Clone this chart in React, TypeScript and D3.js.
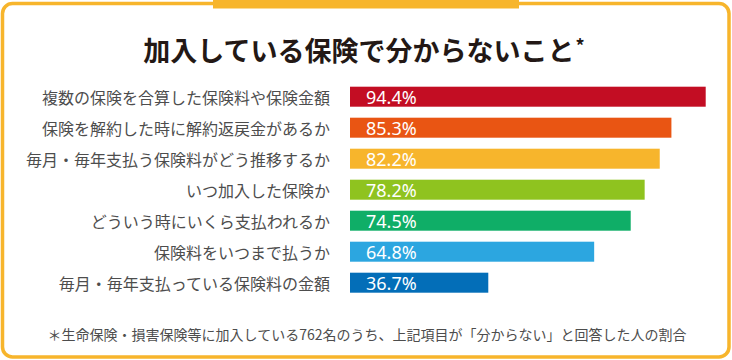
import * as d3 from 'd3'
import React from 'react'

const categories = [
  '複数の保険を合算した保険料や保険金額',
  '保険を解約した時に解約返戻金があるか',
  '毎月・毎年支払う保険料がどう推移するか',
  'いつ加入した保険か',
  'どういう時にいくら支払われるか',
  '保険料をいつまで払うか',
  '毎月・毎年支払っている保険料の金額',
]
const values = [94.4, 85.3, 82.2, 78.2, 74.5, 64.8, 36.7]
const barColors = ['#C30D23', '#E95513', '#F7B52C', '#8FC31F', '#0FAE67', '#2CA6E0', '#036EB8']
const title = '加入している保険で分からないこと'
const note = '＊生命保険・損害保険等に加入している762名のうち、上記項目が「分からない」と回答した人の割合'

const svgWidth = 732
const svgHeight = 360
const orange = '#F7B52C'
const jp = '"Noto Sans CJK JP", "Noto Sans", sans-serif'

export default function App() {
  const xScale = d3.scaleLinear().domain([0, 100]).range([350, 726.8])
  const yScale = d3.scaleBand<string>()
    .domain(categories)
    .range([86.7, 292.7])
    .paddingInner(11 / 31)
    .paddingOuter(0)

  return (
    <svg
      width={svgWidth}
      height={svgHeight}
      style={{ position: 'absolute', left: 0, top: 0, background: '#fff' }}
    >
      <rect x={2.5} y={3.5} width={726.5} height={353.5} rx={10} ry={10}
        fill="#fff" stroke={orange} strokeWidth={3.5} />
      <rect x={213} y={0} width={306} height={8.5} fill={orange} />

      <text x={364} y={49} textAnchor="middle" dominantBaseline="central"
        fontFamily={jp} fontWeight={700} fontSize={27} fill="#231815">
        {title}
        <tspan fontSize={18} dy={-4} dx={1}>*</tspan>
      </text>

      {categories.map((c, i) => {
        const y = yScale(c)!
        const h = yScale.bandwidth()
        return (
          <g key={c}>
            <text x={330} y={y + h / 2} textAnchor="end" dominantBaseline="central"
              fontFamily={jp} fontSize={16} fill="#4d4d4d">{c}</text>
            <rect x={xScale(0)} y={y} width={xScale(values[i]) - xScale(0)} height={h}
              fill={barColors[i]} />
            <text x={xScale(0) + 16} y={y + h / 2 + 0.5} dominantBaseline="central"
              fontFamily='"Noto Sans", sans-serif' fontSize={18} fill="#fff">
              {values[i].toFixed(1)}%
            </text>
          </g>
        )
      })}

      <text x={367} y={334} textAnchor="middle" dominantBaseline="central"
        fontFamily={jp} fontSize={14} fill="#4d4d4d">{note}</text>
    </svg>
  )
}
